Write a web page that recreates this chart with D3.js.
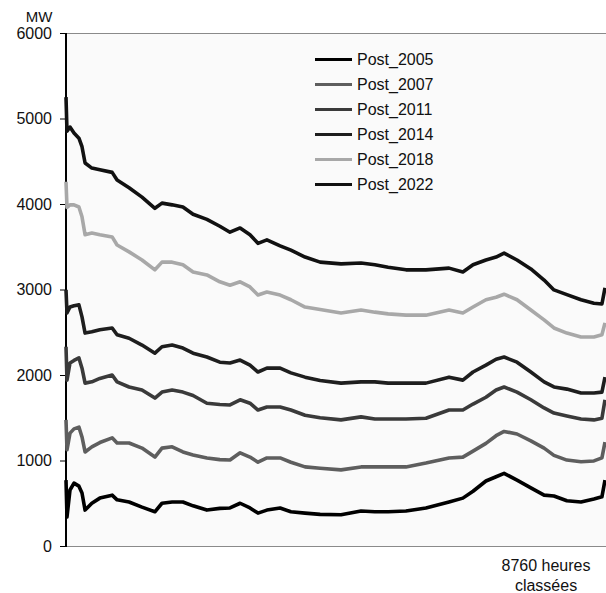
<!DOCTYPE html>
<html><head><meta charset="utf-8">
<script src="https://cdn.jsdelivr.net/npm/d3@7"></script>
<style>body{margin:0;background:#fff}svg{display:block}text{font-family:"Liberation Sans",Arial,sans-serif;fill:#111}</style>
</head><body><svg id="c" width="606" height="593"></svg>
<script>
const hours = [0,16,65,130,210,260,310,420,550,750,830,1025,1235,1445,1560,1725,1900,2065,2290,2500,2665,2830,2990,3120,3265,3480,3655,3885,4130,4470,4795,5020,5235,5525,5850,6225,6450,6615,6825,6990,7120,7330,7555,7770,7930,8140,8370,8580,8710,8760];
const seriesNames = ["Post_2005","Post_2007","Post_2011","Post_2014","Post_2018","Post_2022"];
const post2005 = [770,340,655,735,700,620,420,500,560,595,540,515,455,400,500,515,515,470,420,440,445,500,445,385,420,445,400,385,370,365,410,400,400,410,445,515,560,640,760,810,850,770,680,595,585,530,515,550,575,770];
const post2007 = [1475,1125,1320,1370,1390,1275,1100,1160,1210,1265,1205,1205,1145,1040,1145,1160,1100,1065,1030,1010,1005,1090,1040,980,1030,1030,980,925,910,890,925,925,925,925,970,1030,1040,1110,1200,1290,1340,1310,1230,1145,1060,1005,985,995,1030,1215];
const post2011 = [2330,1940,2140,2170,2200,2080,1905,1920,1960,2000,1920,1860,1825,1730,1800,1825,1800,1760,1670,1655,1650,1710,1670,1590,1625,1625,1590,1530,1500,1475,1510,1485,1485,1485,1495,1590,1590,1660,1740,1825,1860,1800,1710,1615,1555,1520,1485,1475,1495,1710];
const post2014 = [2995,2725,2795,2810,2820,2680,2490,2505,2530,2550,2470,2430,2350,2255,2330,2350,2315,2255,2210,2150,2140,2175,2115,2035,2080,2080,2025,1975,1935,1905,1920,1920,1905,1905,1905,1975,1940,2035,2115,2185,2210,2150,2035,1920,1860,1835,1790,1790,1800,1975];
const post2018 = [4260,3960,3990,3990,3965,3850,3640,3660,3640,3615,3520,3440,3345,3230,3320,3320,3290,3205,3170,3090,3050,3090,3030,2935,2970,2935,2880,2795,2765,2725,2760,2735,2715,2700,2700,2760,2725,2795,2880,2910,2945,2880,2760,2645,2550,2490,2445,2445,2470,2610];
const post2022 = [5250,4850,4900,4830,4770,4670,4480,4420,4400,4370,4280,4190,4080,3950,4010,3990,3965,3880,3820,3740,3670,3720,3640,3540,3580,3510,3460,3380,3320,3300,3310,3290,3260,3230,3230,3250,3205,3290,3345,3380,3425,3345,3240,3110,2995,2940,2880,2840,2830,3020];
const yTicks = [0,1000,2000,3000,4000,5000,6000];
const yUnit = "MW";
const xLabelLines = ["8760 heures","classées"];

const allValues = [post2005,post2007,post2011,post2014,post2018,post2022];
const colors = ["#000000","#5e5e5e","#3a3a3a","#1e1e1e","#a8a8a8","#111111"];

const svg = d3.select("#c");
const L=66, R=605, T=33, B=546;
const x = d3.scaleLinear().domain([0,8760]).range([L,R]);
const y = d3.scaleLinear().domain([0,6000]).range([B,T]);

svg.append("rect").attr("x",L).attr("y",T).attr("width",606-L).attr("height",B-T).attr("fill","#fafafa");
svg.append("line").attr("x1",L).attr("x2",606).attr("y1",T+0.5).attr("y2",T+0.5).attr("stroke","#8a8a8a");
svg.append("line").attr("x1",L).attr("x2",606).attr("y1",B+0.5).attr("y2",B+0.5).attr("stroke","#8a8a8a");

const yAxis = svg.append("g").attr("transform",`translate(${L},0)`)
  .call(d3.axisLeft(y).tickValues(yTicks).tickSize(6).tickPadding(8).tickFormat(d3.format("d")));
yAxis.select(".domain").remove();
yAxis.selectAll(".tick line").attr("stroke","#000");
yAxis.selectAll(".tick text").style("font-size","16px").attr("fill","#111");
svg.append("line").attr("x1",L).attr("x2",L).attr("y1",T).attr("y2",B+1).attr("stroke","#000").attr("stroke-width",2);

svg.append("text").attr("x",39).attr("y",22).attr("text-anchor","middle").style("font-size","15px").text(yUnit);
xLabelLines.forEach((t,i)=>{
  svg.append("text").attr("x",546).attr("y",571+i*20).attr("text-anchor","middle").style("font-size","16px").text(t);
});

const line = d3.line().x((d,i)=>x(hours[i])).y(d=>y(d));
allValues.forEach((vals,k)=>{
  svg.append("path").datum(vals).attr("d",line).attr("fill","none")
    .attr("stroke",colors[k]).attr("stroke-width",3.6).attr("stroke-linejoin","round");
});

const lg = svg.append("g");
seriesNames.forEach((n,i)=>{
  const yy = 59.5 + i*25;
  lg.append("line").attr("x1",315).attr("x2",352).attr("y1",yy).attr("y2",yy).attr("stroke",colors[i]).attr("stroke-width",3);
  lg.append("text").attr("x",357).attr("y",yy+5.5).style("font-size","16px").text(n);
});
</script></body></html>
